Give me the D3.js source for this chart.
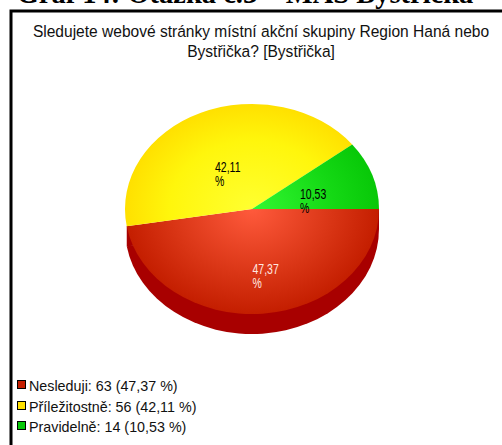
<!DOCTYPE html>
<html><head><meta charset="utf-8">
<script src="https://cdn.jsdelivr.net/npm/d3@7"></script>
<style>html,body{margin:0;padding:0;background:#fff;overflow:hidden}svg{display:block}text{font-family:"Liberation Sans",Arial,sans-serif}</style>
</head><body><div id="chart"></div>
<script>
const heading = "Graf 14: Otázka č.3 – MAS Bystřička";
const titleLines = ["Sledujete webové stránky místní akční skupiny Region Haná nebo","Bystřička? [Bystřička]"];
const categories = ["Nesleduji","Příležitostně","Pravidelně"];
const counts = [63,56,14];
const percents = [47.37,42.11,10.53];
const percentLabels = ["47,37","42,11","10,53"];
const topColors = ["#c41e00","#ffe000","#08c808"];
const midColors = ["#d83414","#fff60c","#14d814"];
const lightColors = ["#ff5a3c","#ffff30","#32f832"];
const labelColors = ["#ffe8e0","#000","#000"];

const W=502,H=445,cx=252,cy=209,rx=127,ry=105,depth=20;
const svg=d3.select("#chart").append("svg").attr("width",W).attr("height",H);
svg.append("text").attr("x",245).attr("y",3).attr("text-anchor","middle")
  .style("font-family","'Liberation Serif'").attr("font-weight","bold").attr("font-size",28.5).text(heading);
svg.append("rect").attr("x",11).attr("y",11).attr("width",W+20).attr("height",H+20).attr("fill","#fff").attr("stroke","#000").attr("stroke-width",3);

const title=svg.append("text").attr("transform","translate(261,0) scale(0.915,1)").attr("text-anchor","middle").attr("font-size",17).attr("fill","#111");
titleLines.forEach((t,i)=>title.append("tspan").attr("x",0).attr("y",37+i*20).text(t));

const defs=svg.append("defs");
categories.forEach((c,i)=>{
  const g=defs.append("radialGradient").attr("id","g"+i).attr("gradientUnits","userSpaceOnUse")
    .attr("cx",0).attr("cy",0).attr("r",127);
  g.append("stop").attr("offset","0%").attr("stop-color",lightColors[i]);
  g.append("stop").attr("offset","65%").attr("stop-color",midColors[i]);
  g.append("stop").attr("offset","100%").attr("stop-color",topColors[i]);
});

// Slices start at 3 o'clock and run clockwise: red, yellow, green
const pie=d3.pie().sort(null).value(d=>d).startAngle(Math.PI/2).endAngle(Math.PI/2+2*Math.PI);
const arcs=pie(percents);
const sy=ry/rx;
const plot=svg.append("g");
const topArc=d3.arc().innerRadius(0).outerRadius(rx);

// Rim: only the red slice faces the viewer
plot.append("g").attr("transform",`translate(${cx},${cy+depth}) scale(1,${sy})`)
  .append("path").attr("d",topArc(arcs[0])).attr("fill","#a80000");
const a0=arcs[0];
const px=a=>rx*Math.sin(a), py=a=>-ry*Math.cos(a);
plot.append("path").attr("fill","#a80000")
  .attr("d",`M${cx+px(a0.startAngle)},${cy+py(a0.startAngle)}L${cx+px(a0.startAngle)},${cy+py(a0.startAngle)+depth}L${cx+px(a0.endAngle)},${cy+py(a0.endAngle)+depth}L${cx+px(a0.endAngle)},${cy+py(a0.endAngle)}Z`);
plot.append("g").attr("transform",`translate(${cx},${cy}) scale(1,${sy})`)
  .selectAll("path").data(arcs).join("path").attr("d",topArc).attr("fill",(d,i)=>`url(#g${i})`);

const labelPos=[[252.5,274],[215,172],[300,199]];
percentLabels.forEach((l,i)=>{
  const [x,y]=labelPos[i];
  const t=svg.append("text").attr("transform",`translate(${x},${y}) scale(0.7,1)`).attr("font-size",15).attr("fill",labelColors[i]);
  t.append("tspan").attr("x",0).attr("y",0).text(l);
  t.append("tspan").attr("x",0).attr("y",14).text("%");
});

const legend=svg.append("g");
const legendTop=[380.5,401.5,421.5];
categories.forEach((c,i)=>{
  const y=legendTop[i];
  legend.append("rect").attr("x",17.5).attr("y",y).attr("width",8).attr("height",8).attr("fill",topColors[i]).attr("stroke","#000").attr("stroke-width",1);
  legend.append("text").attr("x",29).attr("y",y+10.5).attr("font-size",14.3).attr("fill","#111").text(`${c}: ${counts[i]} (${percentLabels[i]} %)`);
});
</script></body></html>
